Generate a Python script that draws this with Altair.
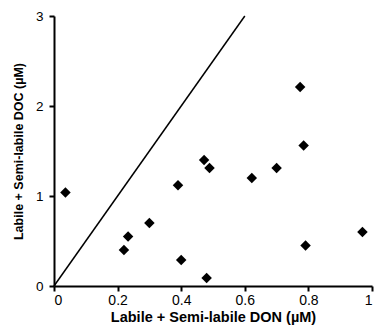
import altair as alt
import pandas as pd

don = [0.036, 0.233, 0.22, 0.30, 0.39, 0.40, 0.472, 0.489, 0.48, 0.622, 0.70, 0.791, 0.97, 0.774, 0.785]
doc = [1.04, 0.55, 0.40, 0.70, 1.12, 0.29, 1.40, 1.31, 0.09, 1.20, 1.31, 0.45, 0.60, 2.21, 1.56]
line_x = [0.0, 0.6]
line_y = [0.0, 3.0]

pts = pd.DataFrame({"x": don, "y": doc})
ln = pd.DataFrame({"x": line_x, "y": line_y})

xs = alt.Scale(domain=[0, 1], nice=False)
ys = alt.Scale(domain=[0, 3], nice=False)

xax = alt.Axis(values=[0, 0.2, 0.4, 0.6, 0.8, 1], format="~g", grid=False,
               title="Labile + Semi-labile DON (\u00b5M)", titleFontSize=14.5,
               labelFontSize=14, labelPadding=2, titlePadding=3)
yax = alt.Axis(values=[0, 1, 2, 3], format="d", grid=False,
               title="Labile + Semi-labile DOC (\u00b5M)", titleFontSize=12.5,
               labelFontSize=13.5, labelPadding=6, titlePadding=10)

line = alt.Chart(ln).mark_line(color="black", strokeWidth=1.5).encode(
    x=alt.X("x:Q", scale=xs, axis=xax),
    y=alt.Y("y:Q", scale=ys, axis=yax),
)
points = alt.Chart(pts).mark_point(shape="diamond", filled=True, color="black",
                                   opacity=1, size=110).encode(
    x=alt.X("x:Q", scale=xs),
    y=alt.Y("y:Q", scale=ys),
)

chart = (line + points).properties(
    width=318, height=270,
    autosize=alt.AutoSizeParams(type="none"),
    padding={"left": 46, "top": 8, "right": 3, "bottom": 40},
).configure_view(stroke=None).configure_axis(
    domainColor="black", domainWidth=2, tickColor="black", tickWidth=2, tickSize=5,
    labelColor="black", titleColor="black", labelFont="Liberation Sans",
    titleFont="Liberation Sans", titleFontWeight="bold",
)

chart.save("out.html", embed_options={"renderer": "svg", "actions": False})
